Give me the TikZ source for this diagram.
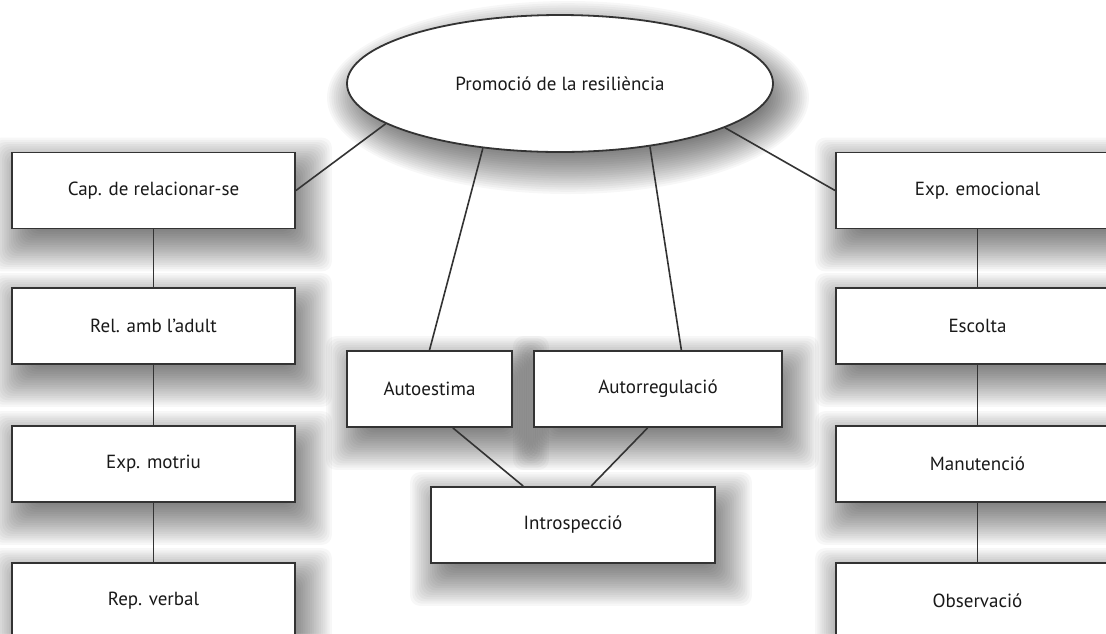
\documentclass[tikz,border=0pt]{standalone}
\usepackage{fontspec}
\setmainfont{PT Sans}
\usetikzlibrary{shapes.geometric,calc,backgrounds}

\begin{document}
\begin{tikzpicture}[
    x=1pt, y=1pt,
    box/.style={draw=black!80, line width=1.8pt, fill=white,
        minimum height=76pt, inner sep=0pt, text=black!90,
        font=\fontsize{19}{22}\selectfont},
    link/.style={draw=black!80, line width=1.6pt},
    haze/.style={fill=black, fill opacity=0.033, rounded corners=10pt},
]
    \useasboundingbox (0,0) rectangle (1106,-633);
    \clip (0,0) rectangle (1106,-633);

    % centre
    \node[box, ellipse, minimum width=426pt, minimum height=137pt]
        (prom) at (560,-83.5) {Promoció de la resiliència};

    % left column
    \node[box, minimum width=283pt] (cap) at (153.5,-190.5) {Cap. de relacionar-se};
    \node[box, minimum width=283pt] (rel) at (153.5,-326) {Rel. amb l’adult};
    \node[box, minimum width=283pt] (mot) at (153.5,-464) {Exp. motriu};
    \node[box, minimum width=283pt] (rep) at (153.5,-601) {Rep. verbal};

    % right column
    \node[box, minimum width=283pt] (emo) at (977.5,-190.5) {Exp. emocional};
    \node[box, minimum width=283pt] (esc) at (977.5,-326) {Escolta};
    \node[box, minimum width=283pt] (man) at (977.5,-464) {Manutenció};
    \node[box, minimum width=283pt] (obs) at (977.5,-601) {Observació};

    % middle
    \node[box, minimum width=165pt] (aes) at (429.5,-389) {Autoestima};
    \node[box, minimum width=248pt] (aur) at (658,-389) {Autorregulació};
    \node[box, minimum width=284pt] (int) at (573,-525) {Introspecció};

    % links
    \draw[link] (prom.193) -- (cap.east);
    \draw[link] (prom.345) -- (emo.west);
    \draw[link] (prom.220) -- (aes.north);
    \draw[link] (prom.325) -- (aur.59);
    \draw[link] (aes.301) -- (int.142);
    \draw[link] (aur.255) -- (int.65);

    \draw[link] (cap) -- (rel);
    \draw[link] (rel) -- (mot);
    \draw[link] (mot) -- (rep);
    \draw[link] (emo) -- (esc);
    \draw[link] (esc) -- (man);
    \draw[link] (man) -- (obs);

    % soft shadows
    \begin{scope}[on background layer]
        \clip (0,0) rectangle (1106,-633);
        \fill[white] (0,0) rectangle (1106,-633);
        \foreach \k [evaluate=\k as \r using 28-(\k-1)*42/19] in {1,...,20} {
            \foreach \n in {cap,rel,mot,rep,emo,esc,man,obs,aes,aur,int}
                \fill[haze] ($(\n.south west)+(8-\r,-14-\r)$)
                    rectangle ($(\n.north east)+(8+\r,-14+\r)$);
            \fill[haze] ($(prom.center)+(8,-14)$)
                ellipse [x radius=213+\r, y radius=68.5+\r];
        }
    \end{scope}
\end{tikzpicture}
\end{document}
